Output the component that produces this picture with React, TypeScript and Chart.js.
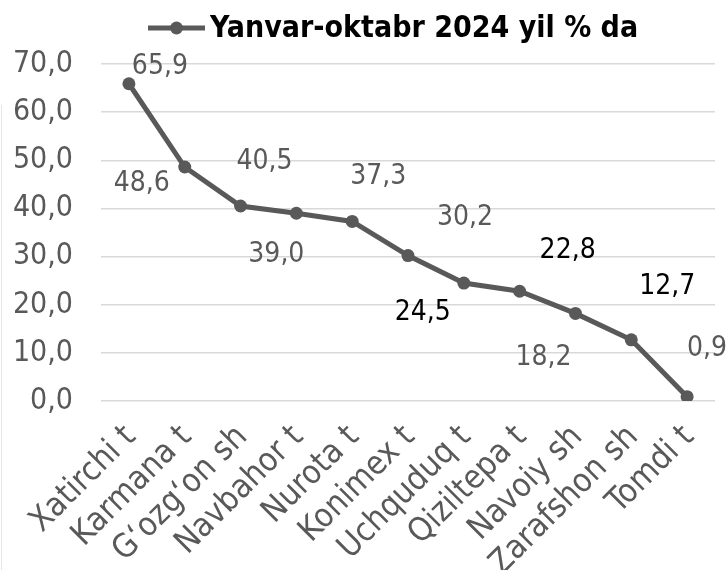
import React, { useEffect, useRef } from "react";
import { Chart, registerables } from "chart.js";

Chart.register(...registerables);

const categories = [
  "Xatirchi t",
  "Karmana t",
  "G\u2018ozg\u2018on sh",
  "Navbahor t",
  "Nurota t",
  "Konimex t",
  "Uchquduq t",
  "Qiziltepa t",
  "Navoiy sh",
  "Zarafshon sh",
  "Tomdi t",
];
const values = [65.9, 48.6, 40.5, 39.0, 37.3, 30.2, 24.5, 22.8, 18.2, 12.7, 0.9];
const seriesName = "Yanvar-oktabr 2024 yil % da";
const yTicks = [0, 10, 20, 30, 40, 50, 60, 70];

// label placement offsets (px) relative to each point, and label colours
const labelDx = [31, -43, 24, -20, 26, 57, -41, 48, -32, 36, 20];
const labelDy = [-17, 17, -44, 41, -45, -38, 30, -41, 44, -53, -48];
const labelColors = ["#595959", "#595959", "#595959", "#595959", "#595959", "#595959", "#000000", "#000000", "#595959", "#000000", "#595959"];

const FONT = "'DejaVu Sans Condensed', 'DejaVu Sans', sans-serif";
const LINE = "#595959";

const fmt = (v: number) => v.toFixed(1).replace(".", ",");

const labelPlugin = {
  id: "valueLabels",
  afterDatasetsDraw(chart: any) {
    const ctx = chart.ctx;
    const meta = chart.getDatasetMeta(0);
    ctx.save();
    ctx.font = `28px ${FONT}`;
    ctx.textAlign = "center";
    ctx.textBaseline = "middle";
    meta.data.forEach((pt: any, i: number) => {
      ctx.fillStyle = labelColors[i];
      ctx.fillText(fmt(values[i]), pt.x + labelDx[i], pt.y + labelDy[i]);
    });
    ctx.restore();
  },
};

const legendPlugin = {
  id: "customLegend",
  afterDraw(chart: any) {
    const ctx = chart.ctx;
    ctx.save();
    const y = 28;
    const x0 = 148;
    ctx.strokeStyle = LINE;
    ctx.lineWidth = 5;
    ctx.beginPath();
    ctx.moveTo(x0, y);
    ctx.lineTo(x0 + 57, y);
    ctx.stroke();
    ctx.fillStyle = LINE;
    ctx.beginPath();
    ctx.arc(x0 + 28.5, y, 6.5, 0, Math.PI * 2);
    ctx.fill();
    ctx.font = `bold 30px ${FONT}`;
    ctx.fillStyle = "#000000";
    ctx.textAlign = "left";
    ctx.textBaseline = "middle";
    ctx.fillText(seriesName, x0 + 62, y + 1);
    // faint chart-area border at left
    ctx.strokeStyle = "#e6e6e6";
    ctx.lineWidth = 1;
    ctx.beginPath();
    ctx.moveTo(1.5, 105);
    ctx.lineTo(1.5, 570);
    ctx.stroke();
    ctx.restore();
  },
};

export default function App() {
  const ref = useRef<HTMLCanvasElement>(null);
  useEffect(() => {
    document.body.style.margin = "0";
    const chart = new Chart(ref.current as HTMLCanvasElement, {
      type: "line",
      data: {
        labels: categories,
        datasets: [
          {
            label: seriesName,
            data: values,
            borderColor: LINE,
            backgroundColor: LINE,
            borderWidth: 5,
            pointRadius: 6.5,
            pointHoverRadius: 6.5,
            pointBackgroundColor: LINE,
            pointBorderWidth: 0,
            tension: 0,
          },
        ],
      },
      options: {
        animation: false,
        responsive: false,
        maintainAspectRatio: false,
        layout: { padding: { top: 64, right: 11, left: 0, bottom: 0 } },
        plugins: {
          legend: { display: false },
          tooltip: { enabled: false },
        },
        scales: {
          x: {
            offset: true,
            grid: { display: false, drawTicks: false, offset: true },
            border: { display: false },
            ticks: {
              color: "#595959",
              font: { family: FONT, size: 33 },
              maxRotation: 45,
              minRotation: 45,
              autoSkip: false,
              padding: 17,
              labelOffset: 2,
            },
            afterFit(axis: any) {
              axis.height = 169;
              axis.paddingLeft = 0;
              axis.paddingRight = 0;
            },
          },
          y: {
            min: 0,
            max: 70,
            afterBuildTicks(axis: any) {
              axis.ticks = yTicks.map((v) => ({ value: v }));
            },
            grid: { color: "#d9d9d9", lineWidth: 1.5, drawTicks: false },
            border: { display: false },
            ticks: {
              color: "#595959",
              font: { family: FONT, size: 30 },
              padding: 28,
              callback: (v: any) => fmt(Number(v)),
            },
            afterFit(axis: any) {
              axis.width = 101;
              axis.paddingTop = 0;
              axis.paddingBottom = 0;
            },
          },
        },
      },
      plugins: [labelPlugin, legendPlugin],
    });
    return () => chart.destroy();
  }, []);
  return <canvas ref={ref} width={726} height={570} style={{ display: "block" }} />;
}
